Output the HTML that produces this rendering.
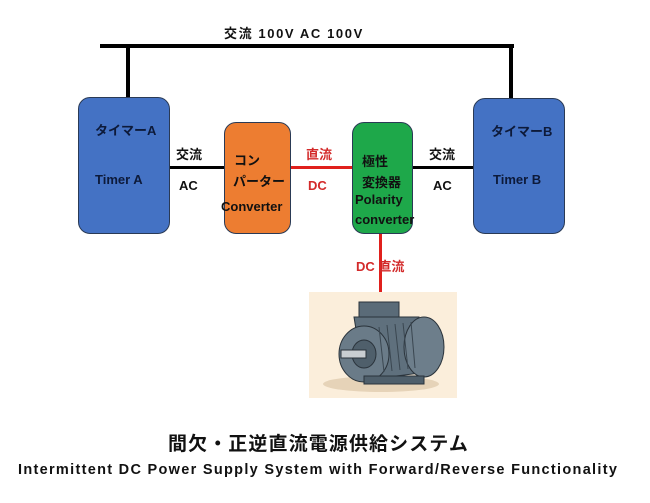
<!DOCTYPE html>
<html><head><meta charset="utf-8"><style>
body{margin:0;width:650px;height:503px;background:#fff;position:relative;overflow:hidden;font-family:"Liberation Sans","Noto Sans CJK JP",sans-serif;font-weight:bold;}
.a{position:absolute;}
.box{position:absolute;border:1.5px solid #2a3a55;border-radius:12px;box-sizing:border-box;}
.t{position:absolute;font-size:13px;color:#111;white-space:nowrap;}
.ln{position:absolute;background:#000;}
.red{position:absolute;background:#e0201c;}
</style></head><body>
<div class="ln" style="left:100px;top:44px;width:414px;height:4px"></div>
<div class="ln" style="left:126px;top:44px;width:4px;height:55px"></div>
<div class="ln" style="left:509px;top:44px;width:4px;height:55px"></div>
<div class="t" style="left:224px;top:23px;font-size:13px;letter-spacing:1.6px">交流 100V AC 100V</div>

<div class="ln" style="left:168px;top:166px;width:58px;height:3px"></div>
<div class="red" style="left:289px;top:166px;width:64px;height:3px"></div>
<div class="ln" style="left:411px;top:166px;width:63px;height:3px"></div>
<div class="red" style="left:379px;top:232px;width:3px;height:62px"></div>

<div class="box" style="left:78px;top:97px;width:92px;height:137px;background:#4472c4"></div>
<div class="t" style="left:95px;top:120px;color:#0d1a3a">タイマーA</div>
<div class="t" style="left:95px;top:172px;color:#0d1a3a">Timer A</div>

<div class="box" style="left:224px;top:122px;width:67px;height:112px;background:#ed7d31"></div>
<div class="t" style="left:234px;top:150px;">コン</div>
<div class="t" style="left:233px;top:171px;">パーター</div>
<div class="t" style="left:221px;top:199px;">Converter</div>

<div class="box" style="left:352px;top:122px;width:61px;height:112px;background:#1ea84a"></div>
<div class="t" style="left:362px;top:151px;">極性</div>
<div class="t" style="left:362px;top:172px;">変換器</div>
<div class="t" style="left:355px;top:192px;">Polarity</div>
<div class="t" style="left:355px;top:212px;">converter</div>

<div class="box" style="left:473px;top:98px;width:92px;height:136px;background:#4472c4"></div>
<div class="t" style="left:491px;top:121px;color:#0d1a3a">タイマーB</div>
<div class="t" style="left:493px;top:172px;color:#0d1a3a">Timer B</div>

<div class="t" style="left:176px;top:144px;">交流</div>
<div class="t" style="left:179px;top:178px;">AC</div>
<div class="t" style="left:306px;top:144px;color:#d32a2a">直流</div>
<div class="t" style="left:308px;top:178px;color:#d32a2a">DC</div>
<div class="t" style="left:429px;top:144px;">交流</div>
<div class="t" style="left:433px;top:178px;">AC</div>
<div class="t" style="left:356px;top:256px;color:#d32a2a">DC 直流</div>

<svg class="a" style="left:309px;top:292px" width="148" height="106">
<rect width="148" height="106" fill="#fbeedb"/>
<ellipse cx="72" cy="92" rx="58" ry="8" fill="#e6d3b8"/>
<rect x="50" y="10" width="40" height="18" fill="#5a6b78" stroke="#2a333b"/>
<path d="M45 25 L110 25 L120 80 L55 88 Z" fill="#5f707d" stroke="#2a333b"/>
<ellipse cx="115" cy="55" rx="20" ry="30" fill="#6d7e8b" stroke="#2a333b"/>
<ellipse cx="55" cy="62" rx="25" ry="28" fill="#6a7b88" stroke="#2a333b"/>
<ellipse cx="55" cy="62" rx="12" ry="14" fill="#4f5f6b" stroke="#2a333b"/>
<rect x="32" y="58" width="25" height="8" fill="#c9ced2" stroke="#2a333b"/>
<g stroke="#3a4650" stroke-width="1">
<line x1="70" y1="35" x2="75" y2="80"/><line x1="78" y1="33" x2="83" y2="79"/><line x1="86" y1="32" x2="91" y2="78"/><line x1="94" y1="31" x2="99" y2="77"/><line x1="102" y1="30" x2="106" y2="76"/></g>
<rect x="55" y="84" width="60" height="8" fill="#4f5f6b" stroke="#2a333b"/>
</svg>

<div class="t" style="left:168px;top:429px;font-size:19px;letter-spacing:1.1px;">間欠・正逆直流電源供給システム</div>
<div class="t" style="left:18px;top:462px;font-size:14.5px;letter-spacing:1.3px;">Intermittent DC Power Supply System with Forward/Reverse Functionality</div>
</body></html>
